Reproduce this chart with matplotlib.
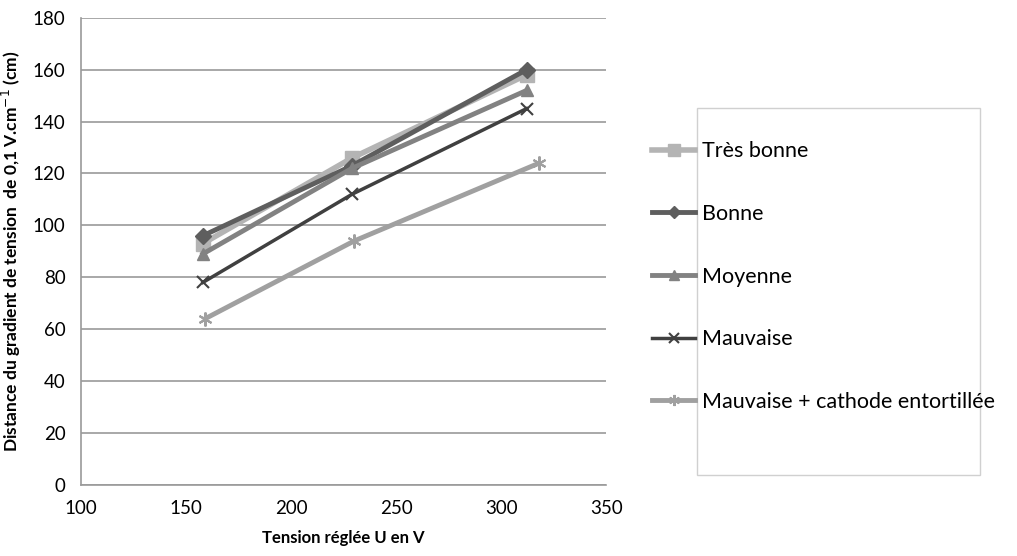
import matplotlib.pyplot as plt
from matplotlib.patches import Rectangle

plt.rcParams['font.family'] = ['Lato', 'DejaVu Sans']

# data
tension = [158, 229, 312]
tension_last = [159, 230, 318]
tres_bonne = [93, 126, 158]
bonne = [96, 123, 160]
moyenne = [89, 122, 152]
mauvaise = [78, 112, 145]
mauvaise_cathode = [64, 94, 124]

labels = ['Très bonne', 'Bonne', 'Moyenne', 'Mauvaise',
          'Mauvaise + cathode entortillée']

fig = plt.figure(figsize=(10.17, 5.56), dpi=100)
ax = fig.add_axes([0.0796, 0.128, 0.5167, 0.840])

ax.plot(tension, tres_bonne, color='#b4b4b4', lw=4, marker='s', ms=10,
        label=labels[0])
ax.plot(tension, bonne, color='#5e5e5e', lw=3.5, marker='D', ms=8,
        label=labels[1])
ax.plot(tension, moyenne, color='#828282', lw=3.5, marker='^', ms=9,
        label=labels[2])
ax.plot(tension, mauvaise, color='#404040', lw=2.5, marker='x', ms=9,
        mew=1.5, label=labels[3])
ax.plot(tension_last, mauvaise_cathode, color='#a0a0a0', lw=3.5,
        marker=(6, 2, 0), ms=10, mew=1.5, label=labels[4])

ax.set_xlim(100, 350)
ax.set_ylim(0, 180)
ax.set_xticks(range(100, 351, 50))
ax.set_yticks(range(0, 181, 20))
ax.tick_params(length=0, labelsize=13.5, pad=11)
ax.grid(axis='y', color='#9a9a9a', lw=1.2)
ax.set_axisbelow(True)
for s in ['top', 'right']:
    ax.spines[s].set_visible(False)
for s in ['left', 'bottom']:
    ax.spines[s].set_color('#9a9a9a')
    ax.spines[s].set_linewidth(1.2)

ax.set_xlabel('Tension réglée U en V', fontweight='bold', fontsize=12,
              labelpad=9)
ax.set_ylabel('Distance du gradient de tension  de 0,1 V.cm$^{-1}$ (cm)',
              fontweight='bold', fontsize=12.5, labelpad=7)

# legend box (handles stick out left of the frame, as in the original)
fig.patches.append(Rectangle((697 / 1017, 1 - 475 / 556), 283 / 1017,
                             367 / 556, transform=fig.transFigure,
                             fill=False, edgecolor='#d0d0d0', lw=1))
fig.legend(loc='upper left', bbox_to_anchor=(633 / 1017, 1 - 122 / 556),
           frameon=False, fontsize=15.5, labelspacing=1.98,
           handlelength=2.0, handletextpad=0.3, markerscale=0.8)

fig.savefig('out.png', dpi=100)
